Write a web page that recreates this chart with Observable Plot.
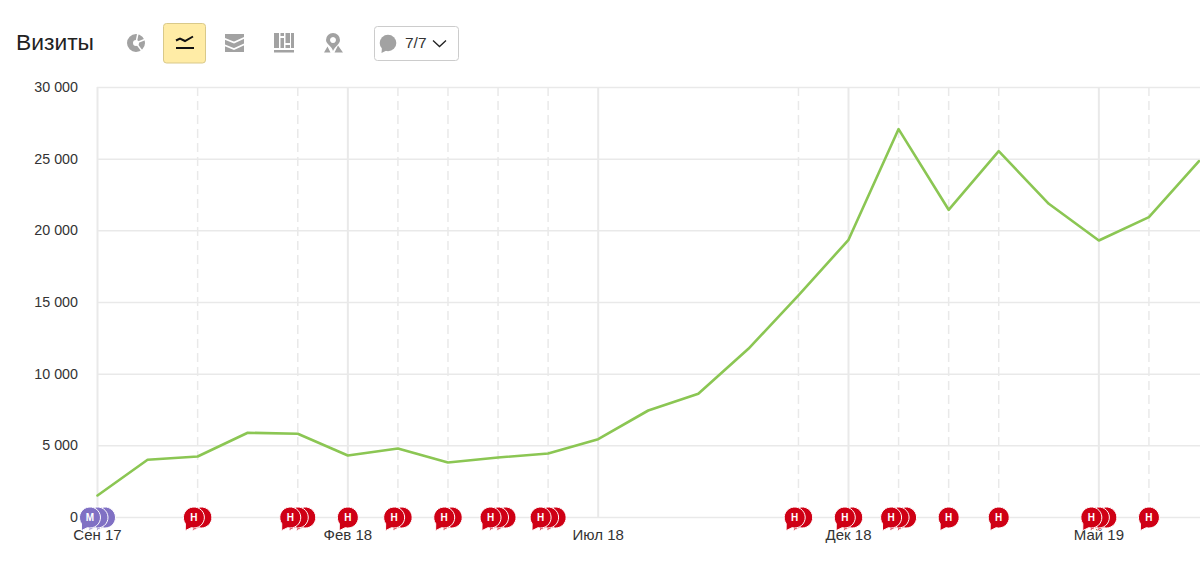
<!DOCTYPE html>
<html lang="ru">
<head>
<meta charset="utf-8">
<script src="https://cdn.jsdelivr.net/npm/d3@7"></script>
<script src="https://cdn.jsdelivr.net/npm/@observablehq/plot@0.6"></script>
<style>
html,body{margin:0;padding:0;background:#fff;width:1200px;height:577px;overflow:hidden;font-family:"Liberation Sans",Arial,sans-serif}
#head{position:relative;height:70px;width:1200px}
#title{position:absolute;left:16px;top:28px;font-size:22.800px;line-height:28px;color:#222}
#head svg{position:absolute;left:0;top:0}
#count{position:absolute;left:405px;top:34px;font-size:15.500px;line-height:18px;color:#333}
</style>
</head>
<body>
<div id="head">
  <svg width="1200" height="70" viewBox="0 0 1200 70">
    <circle cx="136" cy="43" r="6" fill="none" stroke="#a2a2a2" stroke-width="6"/>
    <path d="M136 43L138 33M136 43L146 39M136 43L142 51" stroke="#fff" stroke-width="1.500"/>
    <rect x="163.500" y="23.500" width="42" height="39.500" rx="3" fill="#ffeca6" stroke="#d9c98a"/>
    <path d="M176 40.500l4-2 5 2.500 8-4.500" fill="none" stroke="#111" stroke-width="2"/>
    <path d="M176 48H194" stroke="#111" stroke-width="2"/>
    <rect x="225" y="34" width="19" height="18" fill="#a2a2a2"/>
    <path d="M224 38.500l10 4 11-5M224 45l10 4 11-5" fill="none" stroke="#fff" stroke-width="1.800"/>
    <path d="M274 33h5v15h-5zM280.500 33h3.500v3h-3.500zM280.500 38h3.500v10h-3.500zM285.500 33h4.500v10h-4.500zM285.500 45h4.500v3h-4.500zM291 33h3v15h-3zM274 50h20v2.500h-20z" fill="#a2a2a2"/>
    <path fill-rule="evenodd" d="M333 33a7 7 0 0 1 7 7c0 4-5 6-7 11c-1-5-7-7-7-11a7 7 0 0 1 7-7zM333 37a3 3 0 1 0 .01 0z" fill="#a2a2a2"/>
    <path d="M324 52.500l3.500-6 3 6zM334.500 52.500l3.500-7 5 7z" fill="#a2a2a2"/>
    <rect x="374.500" y="26.500" width="84" height="34" rx="3" fill="#fff" stroke="#ccc"/>
    <circle cx="388" cy="43" r="8.300" fill="#a2a2a2"/>
    <path d="M382 47l-.5 6 6-3z" fill="#a2a2a2"/>
    <path d="M433 40.500l6.500 6 6.500-6" fill="none" stroke="#222" stroke-width="1.300"/>
  </svg>
  <div id="title">Визиты</div>
  <div id="count">7/7</div>
</div>
<div id="chart"></div>
<script>
const monthLabels = ["Сен 17","Окт 17","Ноя 17","Дек 17","Янв 18","Фев 18","Мар 18","Апр 18","Май 18","Июн 18","Июл 18","Авг 18","Сен 18","Окт 18","Ноя 18","Дек 18","Янв 19","Фев 19","Мар 19","Апр 19","Май 19","Июн 19","Июл 19"];
const visits = [1535,4025,4256,5910,5840,4326,4814,3837,4186,4465,5463,7465,8630,11770,15490,19375,27100,21468,25557,21887,19326,20952,24860];
const yTicks = [0,5000,10000,15000,20000,25000,30000];
const xTicks = [0,5,10,15,20];
const noteMonths = [0,2,4,5,6,7,8,9,14,15,16,17,18,20,21];
const noteCounts = [3,2,3,1,2,2,3,3,2,2,3,1,1,3,1];
const noteLetters = ["М","Н","Н","Н","Н","Н","Н","Н","Н","Н","Н","Н","Н","Н","Н"];
const dashedMonths = noteMonths.filter(m => !xTicks.includes(m));

const lineColor = "#8bc653", grid = "#e9e9e9", red = "#cf0015", purple = "#8070c4";
const spread = 0.15;

const bubbles = noteMonths.flatMap((m, k) =>
  d3.range(noteCounts[k] - 1, -1, -1).map(i => ({
    x: m + (i - (noteCounts[k] - 1) / 2) * spread,
    front: i === 0,
    letter: noteLetters[k]
  }))
);

const bubbleSymbol = {
  draw(ctx, size) {
    const r = Math.sqrt(size / Math.PI);
    const a0 = Math.PI * 0.8;
    ctx.moveTo(Math.cos(a0) * r, Math.sin(a0) * r);
    ctx.arc(0, 0, r, a0, Math.PI * 0.58, false);
    ctx.lineTo(-r * 0.82, r * 1.25);
    ctx.closePath();
  }
};

const chart = Plot.plot({
  width: 1200, height: 507,
  marginTop: 17, marginBottom: 60, marginLeft: 97, marginRight: 0,
  style: {fontFamily: '"Liberation Sans",Arial,sans-serif', fontSize: "14px", background: "transparent", overflow: "visible"},
  x: {domain: [0, 22.03], label: null},
  y: {domain: [0, 30000], label: null},
  marks: [
    Plot.ruleY(yTicks, {stroke: grid, strokeWidth: 1.5}),
    Plot.ruleX(dashedMonths, {stroke: grid, strokeWidth: 1.5, strokeDasharray: "9 5"}),
    Plot.ruleX(xTicks, {stroke: grid, strokeWidth: 2}),
    Plot.axisY({ticks: yTicks, tickSize: 0, tickPadding: 19.5, label: null, fontSize: 14.3, fill: "#333",
      tickFormat: d => d3.format(",")(d).replace(/,/g, " ")}),
    Plot.axisX({ticks: xTicks, tickSize: 0, tickPadding: 12, label: null, fontSize: 15, fill: "#333",
      tickFormat: d => monthLabels[d]}),
    Plot.line(visits, {x: (d, i) => i, y: d => d, stroke: lineColor, strokeWidth: 2.6, curve: "linear"}),
    Plot.dot(bubbles, {x: "x", y: () => 0, r: 10.5, symbol: bubbleSymbol,
      fill: d => d.letter === "М" ? purple : red, stroke: "#fff", strokeWidth: 1}),
    Plot.text(bubbles.filter(d => d.front), {x: "x", y: () => 0, text: "letter", fill: "#fff",
      fontSize: 10, fontWeight: "bold"})
  ]
});
document.getElementById("chart").append(chart);
</script>
</body>
</html>
